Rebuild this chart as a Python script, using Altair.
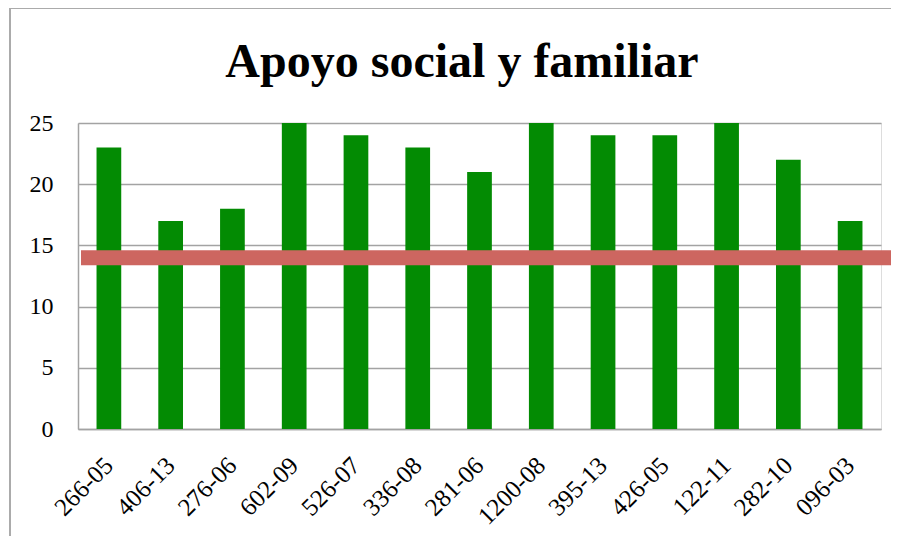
import altair as alt
import pandas as pd

codes = ["266-05", "406-13", "276-06", "602-09", "526-07", "336-08", "281-06",
         "1200-08", "395-13", "426-05", "122-11", "282-10", "096-03"]
scores = [23, 17, 18, 25, 24, 23, 21, 25, 24, 24, 25, 22, 17]
threshold = [14]
y_ticks = [0, 5, 10, 15, 20, 25]
title_text = ["Apoyo social y familiar"]

FONT = "Liberation Serif"
W, H = 803, 306
GRAY = "#A3A3A3"

df = pd.DataFrame({"codigo": codes, "puntaje": scores})
yscale = alt.Scale(domain=[0, 25], nice=False)

frame = alt.Chart(pd.DataFrame({"k": [0]})).mark_rect(
    fill="transparent", stroke="#ABABAB", strokeWidth=2
).encode(x=alt.value(-68), x2=alt.value(1000), y=alt.value(-115), y2=alt.value(700))

title = alt.Chart(pd.DataFrame({"t": title_text})).mark_text(
    font=FONT, fontSize=48, fontWeight="bold", color="black",
    align="center", baseline="alphabetic"
).encode(text="t:N", x=alt.value(384), y=alt.value(-46))

bars = alt.Chart(df).mark_bar(color="#038B03").encode(
    x=alt.X("codigo:N", sort=codes,
            scale=alt.Scale(paddingInner=0.6, paddingOuter=0.3),
            axis=alt.Axis(title=None, labelAngle=-45, labelAlign="right",
                          labelBaseline="middle", labelPadding=32, ticks=False,
                          grid=False, domainColor=GRAY, domainWidth=1.5,
                          labelFont=FONT, labelFontSize=25, labelColor="black")),
    y=alt.Y("puntaje:Q", scale=yscale,
            axis=alt.Axis(title=None, values=y_ticks, ticks=False, labelPadding=25,
                          gridColor=GRAY, gridWidth=1.5, domainColor=GRAY, domainWidth=1.5,
                          labelFont=FONT, labelFontSize=24, labelColor="black")),
)

rule = alt.Chart(pd.DataFrame({"umbral": threshold})).mark_rule(
    color="#CD6660", strokeWidth=15
).encode(y=alt.Y("umbral:Q", scale=yscale), x=alt.value(3), x2=alt.value(W + 12))

chart = alt.layer(frame, bars, rule, title).properties(
    width=W, height=H,
    autosize=alt.AutoSizeParams(type="none"),
    padding={"left": 70, "top": 115, "right": 10, "bottom": 107},
).configure_view(stroke=None).configure(background="white")

chart.save("out.html", embed_options={"renderer": "svg", "actions": False})
